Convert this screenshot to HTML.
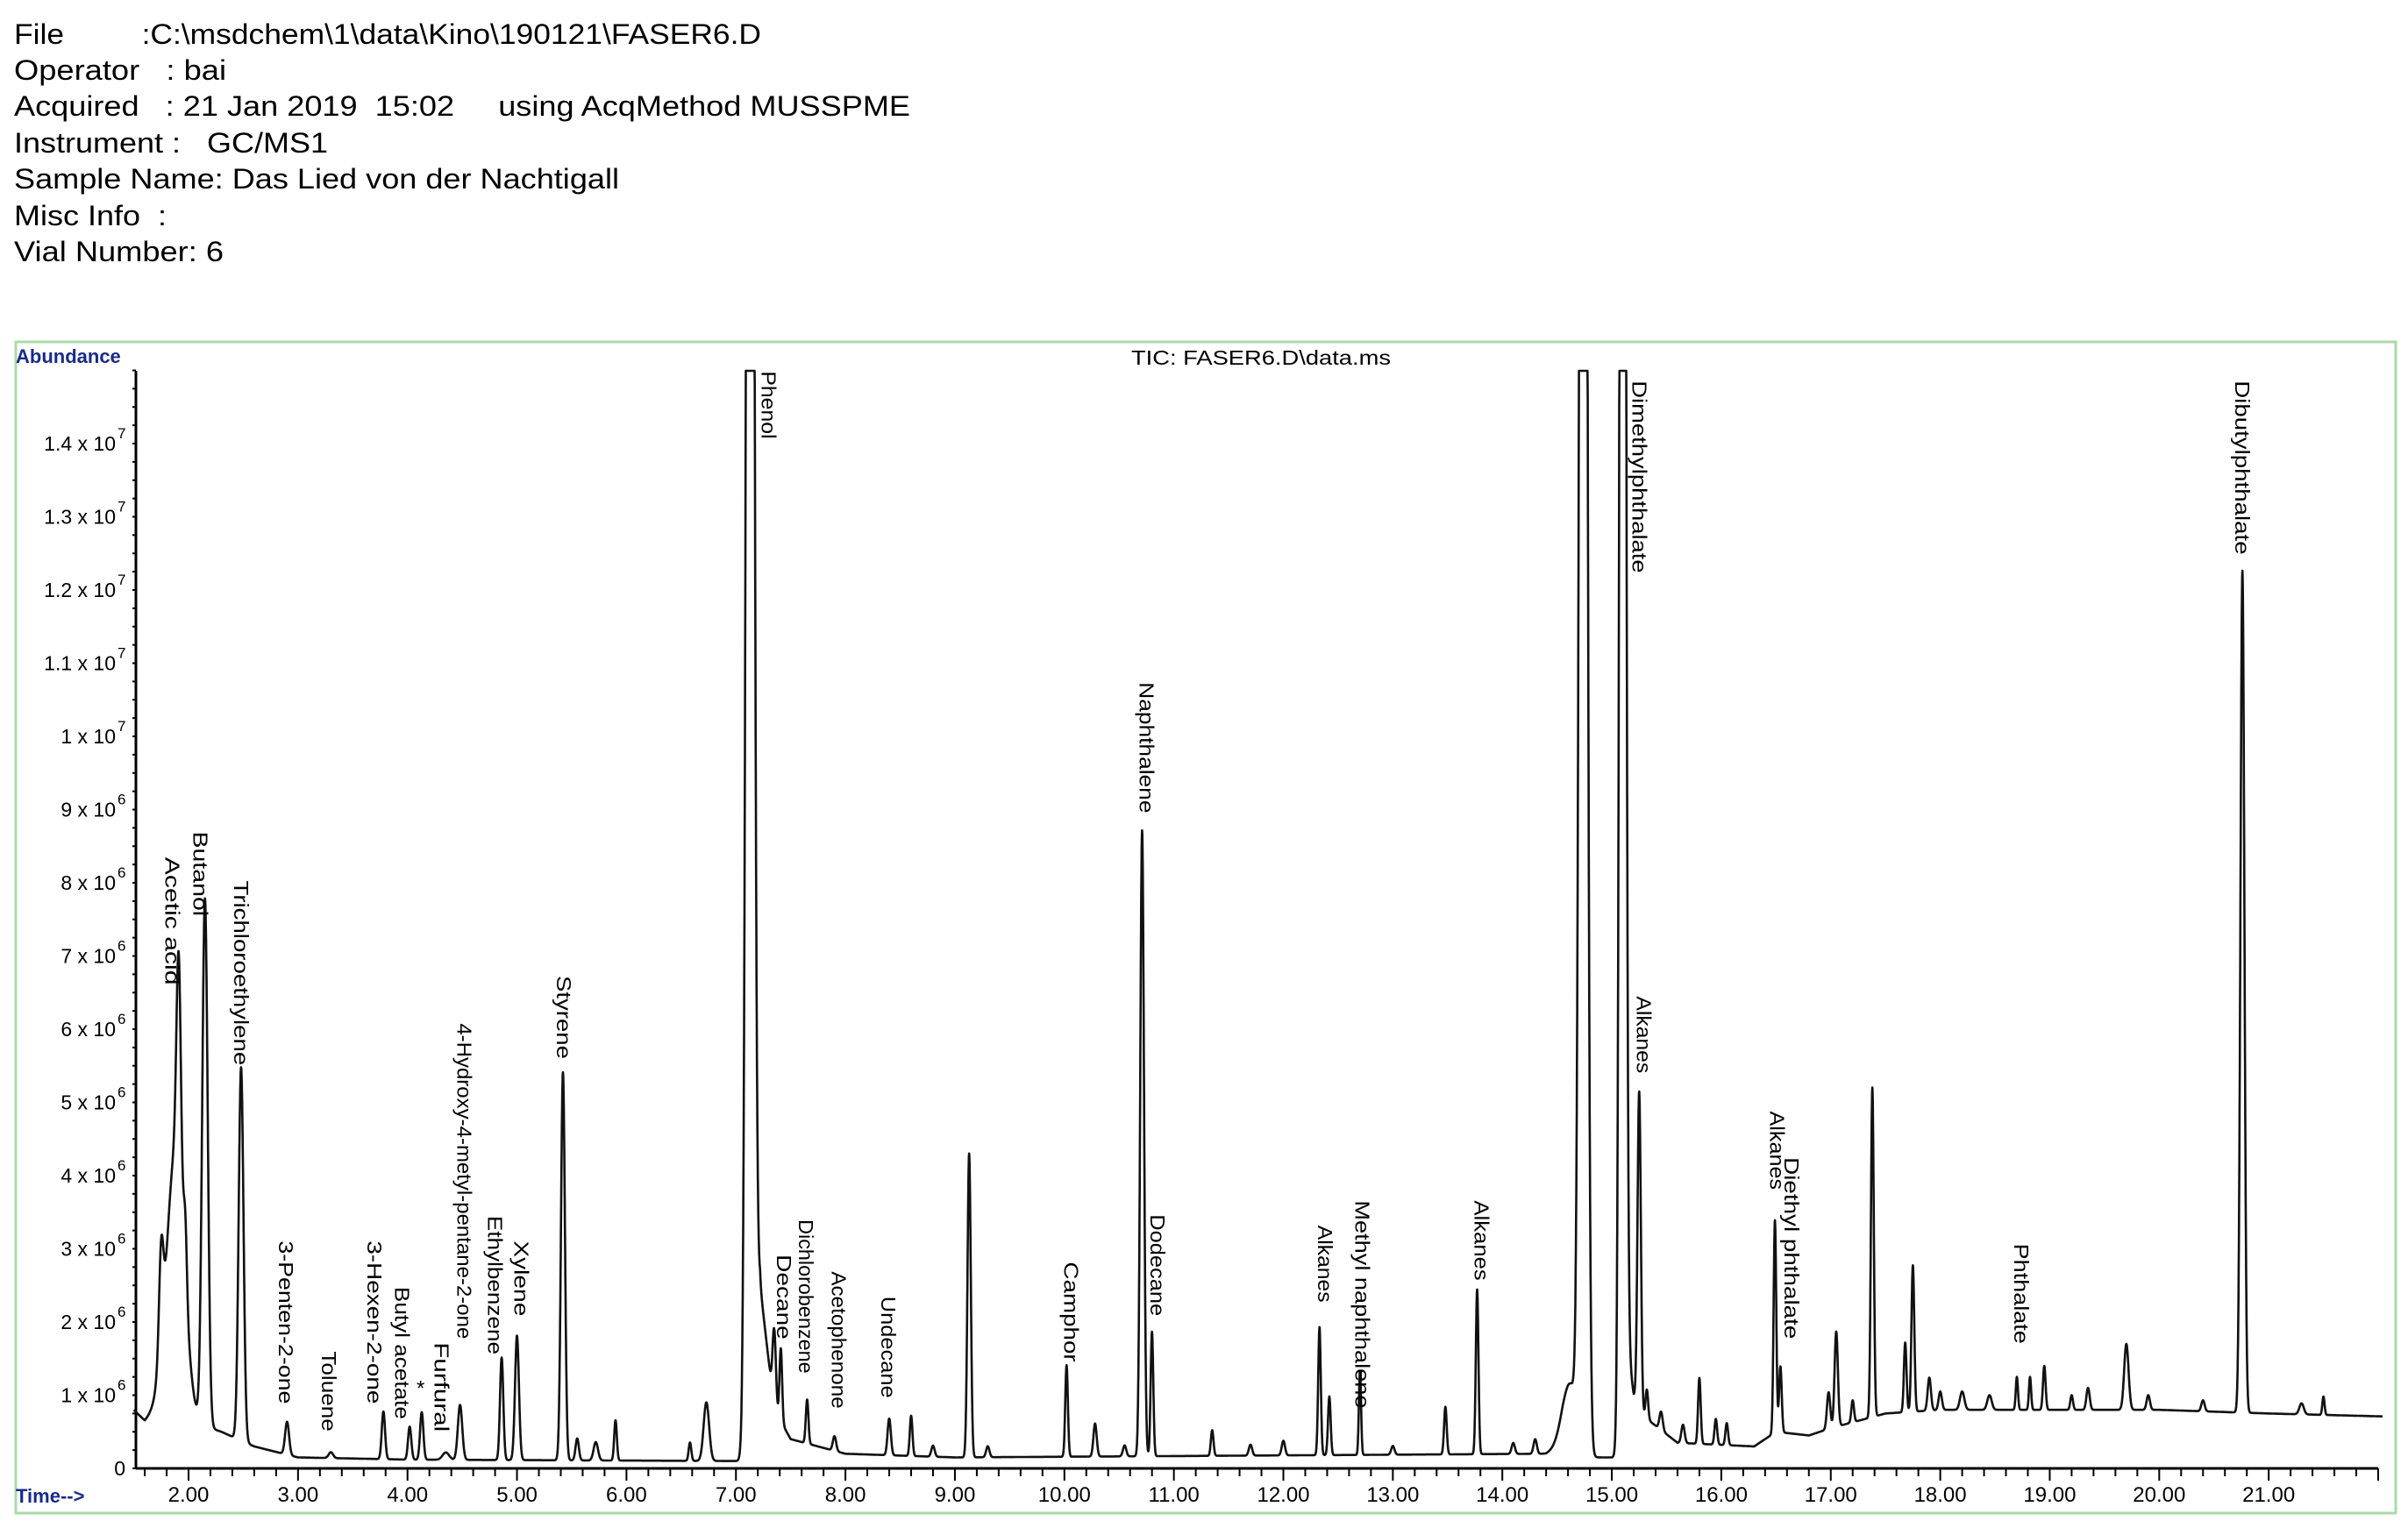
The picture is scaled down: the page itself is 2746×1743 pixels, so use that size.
<!DOCTYPE html>
<html><head><meta charset="utf-8">
<style>
html,body{margin:0;padding:0;background:#fff;}
svg{display:block;}
text{font-family:"Liberation Sans",sans-serif;white-space:pre;}
</style></head>
<body>
<svg id="chart" width="2746" height="1743" viewBox="0 0 2746 1743" xmlns="http://www.w3.org/2000/svg" xml:space="preserve">
<g font-size="32" fill="#000">
<text x="16" y="50" textLength="852" lengthAdjust="spacingAndGlyphs">File         :C:\msdchem\1\data\Kino\190121\FASER6.D</text>
<text x="16" y="91" textLength="242" lengthAdjust="spacingAndGlyphs">Operator   : bai</text>
<text x="16" y="132" textLength="1022" lengthAdjust="spacingAndGlyphs">Acquired   : 21 Jan 2019  15:02     using AcqMethod MUSSPME</text>
<text x="16" y="174" textLength="358" lengthAdjust="spacingAndGlyphs">Instrument :   GC/MS1</text>
<text x="16" y="215" textLength="690" lengthAdjust="spacingAndGlyphs">Sample Name: Das Lied von der Nachtigall</text>
<text x="16" y="257" textLength="174" lengthAdjust="spacingAndGlyphs">Misc Info  :</text>
<text x="16" y="298" textLength="239" lengthAdjust="spacingAndGlyphs">Vial Number: 6</text>
</g>
<rect x="18" y="390" width="2714" height="1336" fill="none" stroke="#a9dba9" stroke-width="3"/>
<text x="18" y="414" font-size="22" fill="#1a2a8a" font-weight="bold">Abundance</text>
<text x="18" y="1714" font-size="22" fill="#1a2a8a" font-weight="bold">Time--&gt;</text>
<text x="1290" y="416" font-size="23" fill="#000" textLength="296" lengthAdjust="spacingAndGlyphs">TIC: FASER6.D\data.ms</text>
<g id="axes"></g>
<g id="trace"></g>
<g id="labels"></g>
</svg>
<script>
// ---- data ----
const peakTimes   = [1.75,1.88,1.91,1.97,2.15,2.48,2.9,3.3,3.78,4.02,4.13,4.35,4.48,4.86,5.0,5.42,5.55,5.72,5.9,6.58,6.73,7.13,7.35,7.41,7.65,7.9,8.4,8.6,8.8,9.13,9.3,10.02,10.28,10.55,10.71,10.8,11.35,11.7,12.0,12.33,12.42,12.7,13.0,13.48,13.77,14.1,14.3,14.62,14.74,15.1,15.25,15.32,15.45,15.65,15.8,15.95,16.05,16.49,16.54,16.98,17.05,17.2,17.38,17.68,17.75,17.9,18.0,18.2,18.45,18.7,18.82,18.95,19.2,19.35,19.7,19.9,20.4,20.76,21.3,21.5];
const peakHeights = [1.4,3.6,3.0,0.9,7.2,5.1,0.45,0.08,0.65,0.45,0.65,0.1,0.75,1.4,1.7,5.3,0.3,0.25,0.55,0.25,0.8,40,1.1,1.0,0.6,0.2,0.5,0.55,0.15,4.15,0.15,1.25,0.45,0.15,8.55,1.7,0.35,0.15,0.2,1.75,0.8,1.15,0.12,0.65,2.25,0.15,0.2,0.9,40,40,4.3,0.4,0.25,0.25,0.9,0.35,0.3,2.9,0.9,0.5,1.3,0.3,4.5,0.95,2.0,0.45,0.25,0.25,0.2,0.45,0.45,0.6,0.2,0.3,0.9,0.2,0.15,11.5,0.15,0.25];
const peakWidths  = [0.02,0.08,0.02,0.015,0.025,0.022,0.018,0.02,0.015,0.015,0.015,0.03,0.02,0.015,0.018,0.018,0.015,0.02,0.012,0.012,0.025,0.028,0.015,0.012,0.012,0.015,0.015,0.012,0.015,0.015,0.015,0.012,0.015,0.015,0.017,0.012,0.012,0.015,0.015,0.012,0.012,0.01,0.015,0.012,0.012,0.015,0.015,0.07,0.028,0.022,0.015,0.012,0.015,0.015,0.012,0.012,0.012,0.012,0.012,0.015,0.015,0.012,0.013,0.012,0.013,0.015,0.015,0.02,0.02,0.01,0.01,0.012,0.012,0.015,0.02,0.015,0.015,0.018,0.02,0.01];
const baseTimes = [1.5,1.6,1.7,2.3,2.6,3.0,4.0,7.05,7.22,7.35,7.5,8.0,9.0,14.4,14.55,14.8,15.04,15.13,15.2,15.3,15.6,16.3,16.5,16.8,17.0,17.5,18.0,20.0,21.0,22.3];
const baseVals  = [0.8,0.65,0.8,0.5,0.3,0.15,0.12,0.1,2.5,0.8,0.4,0.2,0.15,0.2,0.3,0.15,0.15,1.8,1.0,0.7,0.35,0.3,0.5,0.45,0.55,0.75,0.8,0.8,0.75,0.7];
const xTickLabels = ["2.00","3.00","4.00","5.00","6.00","7.00","8.00","9.00","10.00","11.00","12.00","13.00","14.00","15.00","16.00","17.00","18.00","19.00","20.00","21.00"];
const yTickMant = ["1","2","3","4","5","6","7","8","9","1","1.1","1.2","1.3","1.4"];
const yTickExp  = ["6","6","6","6","6","6","6","6","6","7","7","7","7","7"];
const yTickVals = [1,2,3,4,5,6,7,8,9,10,11,12,13,14];
const labelNames = ["Acetic acid","Butanol","Trichloroethylene","3-Penten-2-one","Toluene","3-Hexen-2-one","Butyl acetate","Furfural","4-Hydroxy-4-metyl-pentane-2-one","Ethylbenzene","Xylene","Styrene","Phenol","Decane","Dichlorobenzene","Acetophenone","Undecane","Camphor","Naphthalene","Dodecane","Alkanes","Methyl naphthalene","Alkanes","Dimethylphthalate","Alkanes","Alkanes","Diethyl phthalate","Phthalate","Dibutylphthalate"];
const labelTimes = [1.85,2.11,2.48,2.89,3.28,3.70,3.95,4.31,4.52,4.80,5.04,5.43,7.30,7.44,7.64,7.94,8.39,10.06,10.75,10.85,12.38,12.72,13.81,15.25,15.29,16.51,16.64,18.74,20.76];
const labelTops  = [8.35,8.7,8.03,3.11,1.6,3.11,2.48,1.72,6.08,3.45,3.11,6.73,14.99,2.92,3.4,2.69,2.35,2.82,10.74,3.47,3.32,3.66,3.66,14.86,6.45,4.88,4.25,3.07,14.86];
const labelLens  = [83,55,120,106,52,106,86,58,205,90,49,54,44,55,100,89,66,65,85,66,50,135,52,125,50,51,118,65,113];

// ---- axis functions ----
const X0=215, PX_MIN=124.85, Y0=1675, PX_E6=83.5, TOP=423, LEFT=155, RIGHT=2712;
const xs = t => X0 + (t-2)*PX_MIN;
const ys = v => Y0 - v*PX_E6;
const NS="http://www.w3.org/2000/svg";
function mk(tag, attrs, parent){const e=document.createElementNS(NS,tag);for(const k in attrs)e.setAttribute(k,attrs[k]);parent.appendChild(e);return e;}

const axes=document.getElementById('axes');
let a=mk('line',{x1:LEFT,y1:TOP,x2:LEFT,y2:Y0,stroke:'#000','stroke-width':3},axes);


a=mk('line',{x1:LEFT,y1:Y0,x2:RIGHT,y2:Y0,stroke:'#000','stroke-width':3},axes);


let d='';
for(let v=0; v<=15.01; v+=0.25){const y=ys(v);d+=`M${LEFT-4},${y}H${LEFT}`;}
a=mk('path',{d:d,stroke:'#000','stroke-width':2},axes);


d='';
for(let t=1.6; t<=22.0; t+=0.2){const x=xs(t);const maj=Math.abs(t-Math.round(t))<0.01;d+=`M${x},${Y0}V${Y0+(maj?14:9)}`;}
a=mk('path',{d:d,stroke:'#000','stroke-width':2},axes);


xTickLabels.forEach((s,i)=>{
  const tx=mk('text',{x:xs(parseFloat(s)),y:Y0+38,'font-size':24,'text-anchor':'middle',fill:'#000'},axes);
  tx.textContent=s;
  
  
});
let z=mk('text',{x:LEFT-12,y:Y0+8,'font-size':23,'text-anchor':'end'},axes);z.textContent='0';


yTickVals.forEach((v,i)=>{
  const y=ys(v)+8;
  const tx=mk('text',{x:132,y:y,'font-size':23,'text-anchor':'end',fill:'#000'},axes);
  tx.textContent=yTickMant[i]+' x 10';
  
  
  const ex=mk('text',{x:134,y:y-14,'font-size':17,fill:'#000'},axes);
  ex.textContent=yTickExp[i];
  
  
});

// ---- trace ----
function base(t){
  for(let i=0;i<baseTimes.length-1;i++){
    if(t>=baseTimes[i]&&t<=baseTimes[i+1]){const f=(t-baseTimes[i])/(baseTimes[i+1]-baseTimes[i]);return baseVals[i]+f*(baseVals[i+1]-baseVals[i]);}
  }
  return baseVals[baseVals.length-1];
}
let pts=[];
for(let t=1.5;t<=22.04;t+=0.002){
  let v=base(t);
  for(let i=0;i<peakTimes.length;i++){const dt=(t-peakTimes[i])/peakWidths[i];if(Math.abs(dt)<6)v+=peakHeights[i]*Math.exp(-0.5*dt*dt);}
  let y=Math.max(TOP,ys(v));
  pts.push(xs(t).toFixed(1)+','+y.toFixed(1));
}
const tr=document.getElementById('trace');
a=mk('polyline',{points:pts.join(' '),fill:'none',stroke:'#111','stroke-width':2.6,'stroke-linejoin':'round'},tr);



// ---- labels ----
const lg=document.getElementById('labels');
labelNames.forEach((s,i)=>{
  const x=xs(labelTimes[i])-8, y=ys(labelTops[i]);
  const tx=mk('text',{transform:`translate(${x},${y}) rotate(90)`,'font-size':23,fill:'#000',textLength:labelLens[i]*1.756,lengthAdjust:'spacingAndGlyphs'},lg);
  tx.textContent=s;
  
  
});
let st=mk('text',{x:xs(4.12),y:ys(1.0),'font-size':24,'text-anchor':'middle'},lg);st.textContent='*';


</script>
</body></html>
